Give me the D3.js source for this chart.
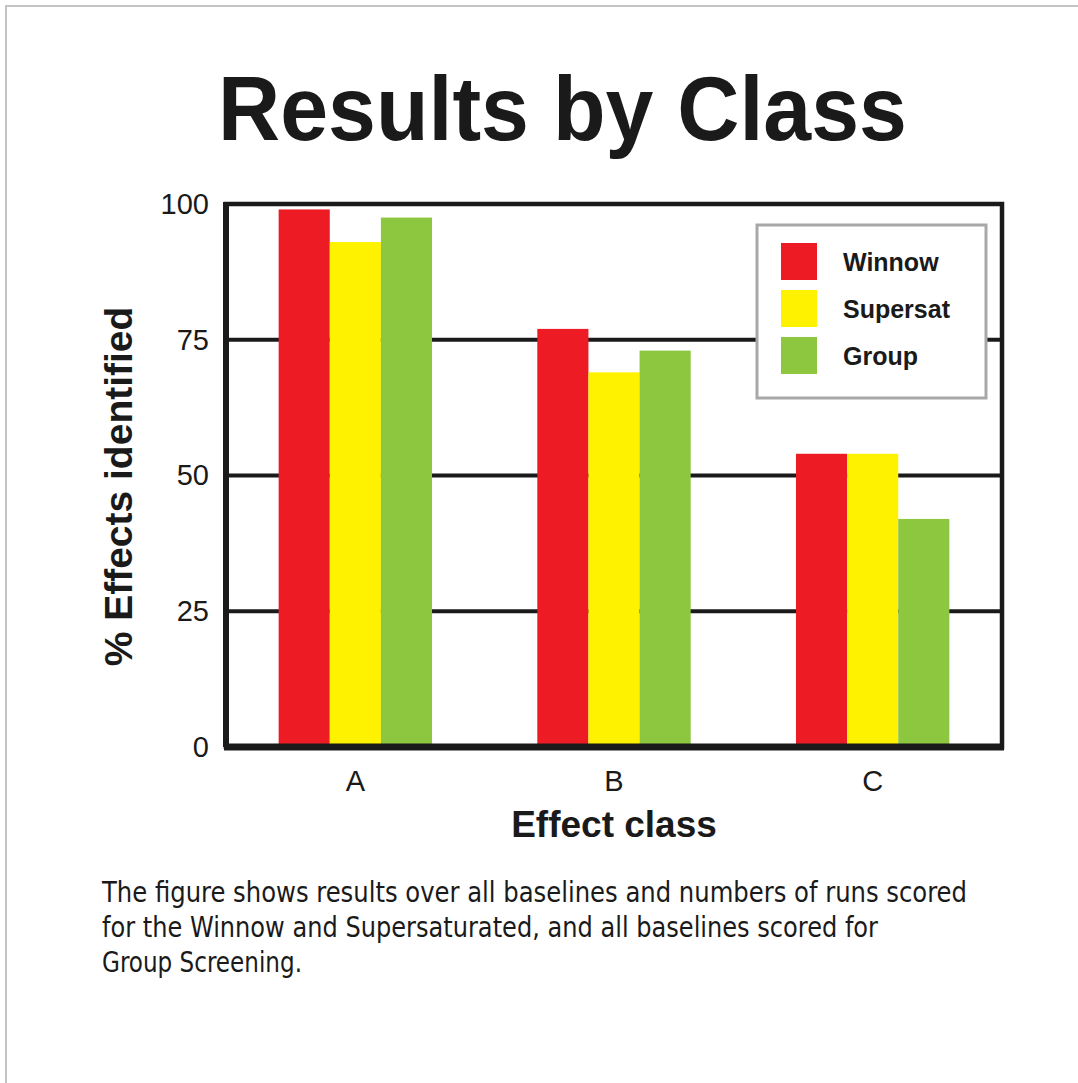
<!DOCTYPE html>
<html>
<head>
<meta charset="utf-8">
<script src="https://cdn.jsdelivr.net/npm/d3@7"></script>
<style>
  html, body { margin: 0; padding: 0; background: #fff; }
  svg { display: block; }
  .sans { font-family: "Liberation Sans", Arial, Helvetica, sans-serif; }
</style>
</head>
<body>
<svg id="chart" width="1078" height="1083"></svg>
<script>
// ---- data ----
const categories = ["A", "B", "C"];
const seriesNames = ["Winnow", "Supersat", "Group"];
const winnow   = [99, 77, 54];
const supersat = [93, 69, 54];
const group    = [97.5, 73, 42];
const yTicks = [0, 25, 50, 75, 100];
const captionLines = [
  "The figure shows results over all baselines and numbers of runs scored",
  "for the Winnow and Supersaturated, and all baselines scored for",
  "Group Screening."
];
const colors = ["#ED1C24", "#FFF200", "#8DC63F"];

// ---- layout ----
const W = 1078, H = 1083;
const plot = { left: 226, right: 1002, top: 204, bottom: 747 };

const svg = d3.select("#chart");
svg.append("rect").attr("width", W).attr("height", H).attr("fill", "#fff");
// grey image border (top/left)
svg.append("line").attr("x1", 5).attr("x2", W).attr("y1", 6).attr("y2", 6)
  .attr("stroke", "#c4c4c4").attr("stroke-width", 2);
svg.append("line").attr("x1", 6).attr("x2", 6).attr("y1", 5).attr("y2", H)
  .attr("stroke", "#c4c4c4").attr("stroke-width", 2);

// title
svg.append("text").attr("class", "sans")
  .attr("x", 218).attr("y", 140)
  .attr("font-size", 90).attr("font-weight", "bold").attr("fill", "#1a1a1a")
  .attr("textLength", 689).attr("lengthAdjust", "spacingAndGlyphs")
  .text("Results by Class");

// scales
const y = d3.scaleLinear().domain([0, 100]).range([plot.bottom, plot.top]);
const x0 = d3.scaleBand().domain(categories).range([plot.left, plot.right])
  .paddingInner(0.407).paddingOuter(0.2035);
const x1 = d3.scaleBand().domain(seriesNames).range([0, x0.bandwidth()]).padding(0);

const rows = categories.map((c, i) => ({
  cat: c,
  vals: [winnow[i], supersat[i], group[i]].map((v, j) => ({ name: seriesNames[j], v, color: colors[j] }))
}));

// gridlines
svg.append("g").selectAll("line").data(yTicks.filter(t => t > 0 && t < 100)).join("line")
  .attr("x1", plot.left).attr("x2", plot.right)
  .attr("y1", d => y(d)).attr("y2", d => y(d))
  .attr("stroke", "#1a1a1a").attr("stroke-width", 4);

// bars
svg.append("g").selectAll("g").data(rows).join("g")
  .attr("transform", d => `translate(${x0(d.cat)},0)`)
  .selectAll("rect").data(d => d.vals).join("rect")
  .attr("x", d => x1(d.name))
  .attr("width", x1.bandwidth())
  .attr("y", d => y(d.v))
  .attr("height", d => y(0) - y(d.v))
  .attr("fill", d => d.color);

// frame
svg.append("rect")
  .attr("x", plot.left).attr("y", plot.top)
  .attr("width", plot.right - plot.left).attr("height", plot.bottom - plot.top)
  .attr("fill", "none").attr("stroke", "#1a1a1a").attr("stroke-width", 4.5);
svg.append("line").attr("x1", plot.left - 2).attr("x2", plot.right + 2)
  .attr("y1", plot.bottom).attr("y2", plot.bottom)
  .attr("stroke", "#1a1a1a").attr("stroke-width", 7);
svg.append("line").attr("x1", plot.left).attr("x2", plot.left)
  .attr("y1", plot.top - 2).attr("y2", plot.bottom)
  .attr("stroke", "#1a1a1a").attr("stroke-width", 6);

// y axis
const yAxis = svg.append("g").attr("class", "sans")
  .attr("transform", `translate(${plot.left},0)`)
  .call(d3.axisLeft(y).tickValues(yTicks).tickSize(0).tickPadding(17));
yAxis.select(".domain").remove();
yAxis.selectAll("text").attr("font-size", 29).attr("fill", "#1a1a1a")
  .attr("font-family", "Liberation Sans, Arial, sans-serif");

// x axis
const xAxis = svg.append("g").attr("class", "sans")
  .attr("transform", `translate(0,${plot.bottom})`)
  .call(d3.axisBottom(x0).tickSize(0).tickPadding(23));
xAxis.select(".domain").remove();
xAxis.selectAll("text").attr("font-size", 29).attr("fill", "#1a1a1a")
  .attr("font-family", "Liberation Sans, Arial, sans-serif");

// axis titles
svg.append("text").attr("class", "sans")
  .attr("transform", `translate(132,${(303 + 670) / 2}) rotate(-90)`)
  .attr("text-anchor", "middle")
  .attr("font-size", 39).attr("font-weight", "bold").attr("fill", "#1a1a1a")
  .text("% Effects identified");
svg.append("text").attr("class", "sans")
  .attr("x", (plot.left + plot.right) / 2).attr("y", 837)
  .attr("text-anchor", "middle")
  .attr("font-size", 37).attr("font-weight", "bold").attr("fill", "#1a1a1a")
  .text("Effect class");

// legend
const leg = svg.append("g").attr("transform", "translate(757,225)");
leg.append("rect").attr("width", 229).attr("height", 173)
  .attr("fill", "#fff").attr("stroke", "#a8a8a8").attr("stroke-width", 3);
const li = leg.selectAll("g.item").data(seriesNames).join("g").attr("class", "item")
  .attr("transform", (d, i) => `translate(24,${18 + i * 47})`);
li.append("rect").attr("width", 36).attr("height", 37).attr("fill", (d, i) => colors[i]);
li.append("text").attr("class", "sans")
  .attr("x", 62).attr("y", 28)
  .attr("font-size", 25).attr("font-weight", "bold").attr("fill", "#1a1a1a")
  .text(d => d);

// caption
const capLens = [865, 776, 200];
svg.append("g").selectAll("text").data(captionLines).join("text")
  .attr("x", 102).attr("y", (d, i) => 902 + i * 35)
  .attr("font-family", "'Liberation Sans Narrow', 'Arial Narrow', 'DejaVu Sans Condensed', sans-serif")
  .attr("font-stretch", "condensed")
  .attr("font-size", 29).attr("fill", "#1a1a1a")
  .attr("textLength", (d, i) => capLens[i]).attr("lengthAdjust", "spacingAndGlyphs")
  .text(d => d);
</script>
</body>
</html>
